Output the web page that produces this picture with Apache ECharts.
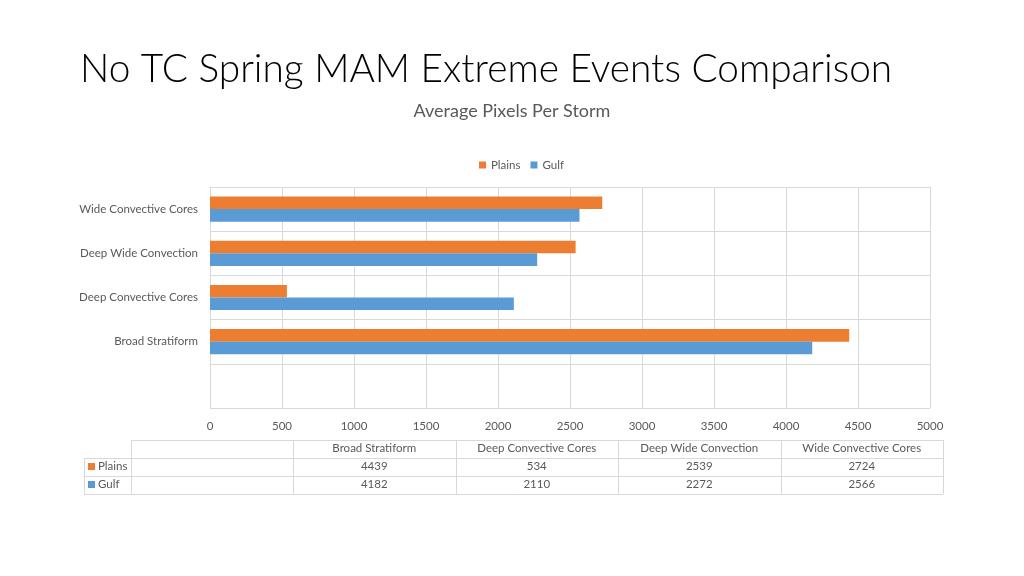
<!DOCTYPE html>
<html>
<head>
<meta charset="utf-8">
<script src="https://cdn.jsdelivr.net/npm/echarts@6/dist/echarts.min.js"></script>
<style>
html,body{margin:0;padding:0;background:#fff;}
#chart{width:1024px;height:576px;}
</style>
</head>
<body>
<div id="chart"></div>
<script>
// ---- data ----
var categories = ['Broad Stratiform', 'Deep Convective Cores', 'Deep Wide Convection', 'Wide Convective Cores'];
var plains = [4439, 534, 2539, 2724];
var gulf = [4182, 2110, 2272, 2566];
var seriesNames = ['Plains', 'Gulf'];

var orange = '#ED7D31', blue = '#5B9BD5';
var FONT = 'Lato, "Open Sans", sans-serif';
var chart = echarts.init(document.getElementById('chart'));

// y categories include an empty band at the bottom
var yCats = [''].concat(categories);
var plainsData = [null].concat(plains);
var gulfData = [null].concat(gulf);

// ---- data table via graphic ----
var tbl = {top: 440, rowH: 18, firstX: 84, keyW: 47, blankW: 162, colW: 162.5};
var lineColor = '#d9d9d9';
var txtFont = '11.5px ' + FONT;
var g = [];
var nCols = categories.length;
var colStart = tbl.firstX + tbl.keyW + tbl.blankW;
var right = colStart + nCols * tbl.colW;
function hline(x1, x2, y) { g.push({type: 'line', shape: {x1: x1, y1: y, x2: x2, y2: y}, style: {stroke: lineColor, lineWidth: 1}}); }
function vline(x, y1, y2) { g.push({type: 'line', shape: {x1: x, y1: y1, x2: x, y2: y2}, style: {stroke: lineColor, lineWidth: 1}}); }
var yTop = tbl.top, y1 = tbl.top + tbl.rowH, y2 = tbl.top + 2 * tbl.rowH, y3 = tbl.top + 3 * tbl.rowH;
hline(tbl.firstX + tbl.keyW, right, yTop + 0.5);
hline(tbl.firstX, right, y1 + 0.5);
hline(tbl.firstX, right, y2 + 0.5);
hline(tbl.firstX, right, y3 + 0.5);
vline(tbl.firstX + 0.5, y1, y3);
vline(tbl.firstX + tbl.keyW + 0.5, yTop, y3);
for (var c = 0; c <= nCols; c++) vline(Math.round(colStart + c * tbl.colW) + 0.5, yTop, y3);
for (var c = 0; c < nCols; c++) {
  var cx = colStart + (c + 0.5) * tbl.colW;
  g.push({type: 'text', x: cx, y: yTop + tbl.rowH / 2 - 0.5, style: {text: categories[c], fill: '#595959', font: txtFont, textAlign: 'center', textVerticalAlign: 'middle'}});
  g.push({type: 'text', x: cx, y: y1 + tbl.rowH / 2 - 0.5, style: {text: String(plains[c]), fill: '#595959', font: txtFont, textAlign: 'center', textVerticalAlign: 'middle'}});
  g.push({type: 'text', x: cx, y: y2 + tbl.rowH / 2 - 0.5, style: {text: String(gulf[c]), fill: '#595959', font: txtFont, textAlign: 'center', textVerticalAlign: 'middle'}});
}
[[seriesNames[0], orange, y1], [seriesNames[1], blue, y2]].forEach(function (r) {
  g.push({type: 'rect', shape: {x: tbl.firstX + 4, y: r[2] + 5, width: 7, height: 7}, style: {fill: r[1]}});
  g.push({type: 'text', x: tbl.firstX + 14, y: r[2] + tbl.rowH / 2 - 1, style: {text: r[0], fill: '#595959', font: txtFont, textAlign: 'left', textVerticalAlign: 'middle'}});
});

var option = {
  backgroundColor: '#fff',
  animation: false,
  title: [
    {text: 'No TC Spring MAM Extreme Events Comparison', left: 75, top: 45,
     textStyle: {fontFamily: FONT, fontWeight: 300, fontSize: 38.8, color: '#000'}},
    {text: 'Average Pixels Per Storm', left: 'center', top: 97,
     textStyle: {fontFamily: FONT, fontWeight: 'normal', fontSize: 18, color: '#595959'}}
  ],
  legend: {
    data: seriesNames, top: 154, left: 474, itemWidth: 7, itemHeight: 7, itemGap: 10,
    icon: 'rect',
    textStyle: {fontFamily: FONT, fontSize: 11.5, color: '#595959'}
  },
  grid: {left: 210, right: 94, top: 187, bottom: 168, containLabel: false},
  xAxis: {
    type: 'value', min: 0, max: 5000, interval: 500,
    axisLine: {show: false}, axisTick: {show: false},
    axisLabel: {fontFamily: FONT, fontSize: 11.5, color: '#595959', margin: 12,
      formatter: function (v) { return String(v); }},
    splitLine: {lineStyle: {color: lineColor}}
  },
  yAxis: {
    type: 'category', data: yCats,
    axisLine: {show: true, lineStyle: {color: lineColor}}, axisTick: {show: false},
    axisLabel: {fontFamily: FONT, fontSize: 11.5, color: '#595959', margin: 12},
    splitLine: {show: true, lineStyle: {color: lineColor}}
  },
  series: [
    {name: seriesNames[0], type: 'bar', data: plainsData, itemStyle: {color: orange}, barGap: '0%', barCategoryGap: '43%'},
    {name: seriesNames[1], type: 'bar', data: gulfData, itemStyle: {color: blue}, barGap: '0%', barCategoryGap: '43%'}
  ],
  graphic: g
};
chart.setOption(option);
</script>
</body>
</html>
